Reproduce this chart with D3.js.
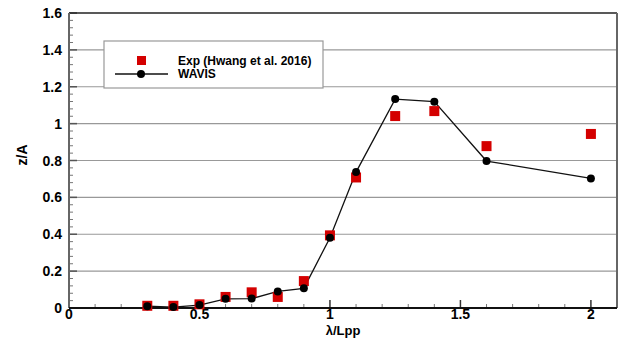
<!DOCTYPE html>
<html lang="en">
<head>
<meta charset="UTF-8">
<title>z/A vs lambda/Lpp</title>
<script src="https://d3js.org/d3.v7.min.js"></script>
<style>
  body { margin: 0; background: #fff; }
  text { font-family: "Liberation Sans", Arial, sans-serif; font-weight: bold; }
</style>
</head>
<body>
<svg></svg>
<script>
const expX = [0.3, 0.4, 0.5, 0.6, 0.7, 0.8, 0.9, 1.0, 1.1, 1.25, 1.4, 1.6, 2.0];
const expY = [0.012, 0.012, 0.02, 0.06, 0.085, 0.06, 0.146, 0.394, 0.708, 1.041, 1.068, 0.878, 0.944];
const wavisX = [0.3, 0.4, 0.5, 0.6, 0.7, 0.8, 0.9, 1.0, 1.1, 1.25, 1.4, 1.6, 2.0];
const wavisY = [0.01, 0.005, 0.016, 0.05, 0.051, 0.09, 0.107, 0.381, 0.737, 1.133, 1.119, 0.797, 0.703];
const xTicks = [0, 0.5, 1, 1.5, 2];
const yTicks = [0, 0.2, 0.4, 0.6, 0.8, 1, 1.2, 1.4, 1.6];
const legendLabels = ["Exp (Hwang et al. 2016)", "WAVIS"];

const width = 621, height = 338;
const pLeft = 69, pRight = 617, pTop = 13, pBottom = 308;

const svg = d3.select("svg").attr("width", width).attr("height", height);

const x = d3.scaleLinear().domain([0, 2.1]).range([pLeft, pRight]);
const y = d3.scaleLinear().domain([0, 1.6]).range([pBottom, pTop]);

// horizontal grid
svg.append("g").selectAll("line")
  .data(yTicks.filter(d => d > 0 && d < 1.6))
  .enter().append("line")
  .attr("x1", pLeft).attr("x2", pRight)
  .attr("y1", d => y(d)).attr("y2", d => y(d))
  .attr("stroke", "#999").attr("stroke-width", 1.2);

// minor ticks
const yMinor = d3.range(0, 1.6001, 0.04).filter(v => Math.abs(v / 0.2 - Math.round(v / 0.2)) > 0.01);
svg.append("g").selectAll("line").data(yMinor).enter().append("line")
  .attr("x1", pLeft).attr("x2", pLeft + 4)
  .attr("y1", d => y(d)).attr("y2", d => y(d))
  .attr("stroke", "#777").attr("stroke-width", 1);
const xMinor = d3.range(0.1, 2.1, 0.1).filter(v => Math.abs(v / 0.5 - Math.round(v / 0.5)) > 0.01);
svg.append("g").selectAll("line").data(xMinor).enter().append("line")
  .attr("x1", d => x(d)).attr("x2", d => x(d))
  .attr("y1", pBottom).attr("y2", pBottom - 4)
  .attr("stroke", "#777").attr("stroke-width", 1);

// major ticks
svg.append("g").selectAll("line").data(yTicks).enter().append("line")
  .attr("x1", pLeft).attr("x2", pLeft + 8)
  .attr("y1", d => y(d)).attr("y2", d => y(d))
  .attr("stroke", "#555").attr("stroke-width", 1.5);
svg.append("g").selectAll("line").data(xTicks).enter().append("line")
  .attr("x1", d => x(d)).attr("x2", d => x(d))
  .attr("y1", pBottom).attr("y2", pBottom - 8)
  .attr("stroke", "#333").attr("stroke-width", 1.5);

// frame
svg.append("line").attr("x1", pLeft).attr("x2", pRight).attr("y1", pTop).attr("y2", pTop)
  .attr("stroke", "#222").attr("stroke-width", 1.5);
svg.append("line").attr("x1", pRight).attr("x2", pRight).attr("y1", pTop).attr("y2", pBottom)
  .attr("stroke", "#666").attr("stroke-width", 2);
svg.append("line").attr("x1", pLeft).attr("x2", pLeft).attr("y1", pTop).attr("y2", pBottom)
  .attr("stroke", "#666").attr("stroke-width", 2);
svg.append("line").attr("x1", pLeft).attr("x2", pRight).attr("y1", pBottom).attr("y2", pBottom)
  .attr("stroke", "#111").attr("stroke-width", 2);

// tick labels
svg.append("g").selectAll("text").data(yTicks).enter().append("text")
  .attr("x", pLeft - 7).attr("y", d => y(d) + 5)
  .attr("text-anchor", "end").attr("font-size", 14)
  .text(d => d3.format("~g")(d));
svg.append("g").selectAll("text").data(xTicks).enter().append("text")
  .attr("x", d => x(d)).attr("y", pBottom + 11)
  .attr("text-anchor", "middle").attr("font-size", 14)
  .text(d => d3.format("~g")(d));

// axis titles
svg.append("text").attr("x", 343).attr("y", 335)
  .attr("text-anchor", "middle").attr("font-size", 13).text("λ/Lpp");
svg.append("text").attr("transform", `translate(27,155) rotate(-90)`)
  .attr("text-anchor", "middle").attr("font-size", 14).text("z/A");

// WAVIS line
const wavis = wavisX.map((v, i) => [v, wavisY[i]]);
svg.append("path").datum(wavis)
  .attr("d", d3.line().x(d => x(d[0])).y(d => y(d[1])))
  .attr("fill", "none").attr("stroke", "#111").attr("stroke-width", 1.3);

// experiment squares
const exp = expX.map((v, i) => [v, expY[i]]);
svg.append("g").selectAll("rect").data(exp).enter().append("rect")
  .attr("x", d => x(d[0]) - 5).attr("y", d => y(d[1]) - 5)
  .attr("width", 10).attr("height", 10).attr("fill", "#d40000");

svg.append("g").selectAll("circle").data(wavis).enter().append("circle")
  .attr("cx", d => x(d[0])).attr("cy", d => y(d[1])).attr("r", 4)
  .attr("fill", "#000");

// legend
const lg = svg.append("g");
lg.append("rect").attr("x", 104).attr("y", 41).attr("width", 219).attr("height", 47)
  .attr("fill", "#fff").attr("stroke", "#999").attr("stroke-width", 1.2);
lg.append("rect").attr("x", 137).attr("y", 56).attr("width", 9).attr("height", 9).attr("fill", "#d40000");
lg.append("line").attr("x1", 115).attr("x2", 168).attr("y1", 74).attr("y2", 74)
  .attr("stroke", "#111").attr("stroke-width", 1.3);
lg.append("circle").attr("cx", 141).attr("cy", 74).attr("r", 4).attr("fill", "#000");
lg.selectAll("text").data(legendLabels).enter().append("text")
  .attr("x", 178).attr("y", (d, i) => 65 + i * 13)
  .attr("font-size", 12).text(d => d);
</script>
</body>
</html>
